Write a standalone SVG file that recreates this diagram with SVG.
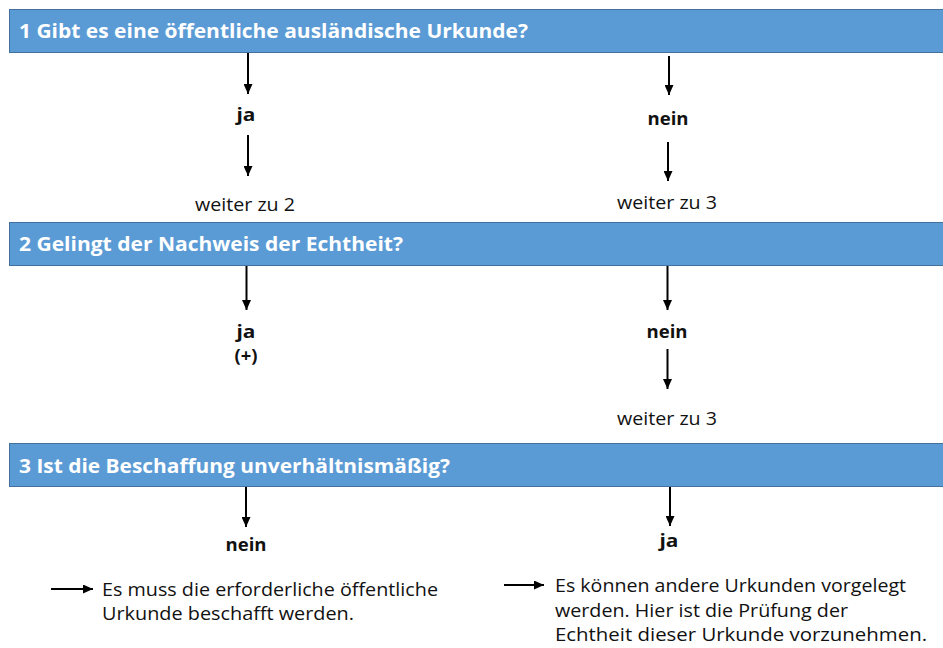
<svg xmlns="http://www.w3.org/2000/svg" width="943" height="648" viewBox="0 0 943 648">
<defs>
<style>
.bar{fill:#5B9BD5;stroke:#41719C;stroke-width:1}
.h{font-family:"Open Sans",Lato,"Liberation Sans",sans-serif;font-weight:bold;font-size:19px;fill:#ffffff}
.b{font-family:"Open Sans",Lato,"Liberation Sans",sans-serif;font-weight:bold;font-size:18px;fill:#111111;text-anchor:middle}
.t{font-family:"Open Sans",Lato,"Liberation Sans",sans-serif;font-size:19px;fill:#111111}
.a{stroke:#000000;stroke-width:2;fill:none;marker-end:url(#ah)}
</style>
<marker id="ah" markerUnits="userSpaceOnUse" markerWidth="10" markerHeight="9" refX="10" refY="4.5" orient="auto">
<path d="M0,0 L10,4.5 L0,9 z" fill="#000000"/>
</marker>
</defs>
<rect width="943" height="648" fill="#ffffff"/>

<g id="q1">
<rect class="bar" x="9.5" y="9.5" width="940" height="43"/>
<text class="h" x="19" y="37.5" textLength="509" lengthAdjust="spacingAndGlyphs">1 Gibt es eine öffentliche ausländische Urkunde?</text>
</g>
<g id="q1-ja"><text class="b" x="246" y="121" textLength="19" lengthAdjust="spacingAndGlyphs">ja</text></g>
<g id="q1-weiter2"><text class="t" x="195" y="211" textLength="100" lengthAdjust="spacingAndGlyphs">weiter zu 2</text></g>
<g id="q1-nein"><text class="b" x="668" y="125" textLength="41" lengthAdjust="spacingAndGlyphs">nein</text></g>
<g id="q1-weiter3"><text class="t" x="617" y="209" textLength="100" lengthAdjust="spacingAndGlyphs">weiter zu 3</text></g>

<g id="q2">
<rect class="bar" x="9.5" y="222.5" width="940" height="43"/>
<text class="h" x="19" y="251" textLength="384" lengthAdjust="spacingAndGlyphs">2 Gelingt der Nachweis der Echtheit?</text>
</g>
<g id="q2-ja">
<text class="b" x="246" y="338" textLength="19" lengthAdjust="spacingAndGlyphs">ja</text>
<text class="b" x="246" y="362" textLength="23" lengthAdjust="spacingAndGlyphs">(+)</text>
</g>
<g id="q2-nein"><text class="b" x="667" y="338" textLength="41" lengthAdjust="spacingAndGlyphs">nein</text></g>
<g id="q2-weiter3"><text class="t" x="617" y="425" textLength="100" lengthAdjust="spacingAndGlyphs">weiter zu 3</text></g>

<g id="q3">
<rect class="bar" x="9.5" y="443.5" width="940" height="43"/>
<text class="h" x="19" y="472.5" textLength="431" lengthAdjust="spacingAndGlyphs">3 Ist die Beschaffung unverhältnismäßig?</text>
</g>
<g id="q3-nein"><text class="b" x="246" y="551" textLength="41" lengthAdjust="spacingAndGlyphs">nein</text></g>
<g id="q3-ja"><text class="b" x="669" y="547" textLength="19" lengthAdjust="spacingAndGlyphs">ja</text></g>
<g id="q3-nein-result">
<text class="t" x="102" y="595.5" textLength="336" lengthAdjust="spacingAndGlyphs">Es muss die erforderliche öffentliche</text>
<text class="t" x="102" y="620" textLength="252" lengthAdjust="spacingAndGlyphs">Urkunde beschafft werden.</text>
</g>
<g id="q3-ja-result">
<text class="t" x="555" y="591.5" textLength="351" lengthAdjust="spacingAndGlyphs">Es können andere Urkunden vorgelegt</text>
<text class="t" x="555" y="616.5" textLength="293" lengthAdjust="spacingAndGlyphs">werden. Hier ist die Prüfung der</text>
<text class="t" x="555" y="641" textLength="372" lengthAdjust="spacingAndGlyphs">Echtheit dieser Urkunde vorzunehmen.</text>
</g>

<g id="connectors">
<line class="a" x1="248" y1="53" x2="248" y2="94"/>
<line class="a" x1="248" y1="135" x2="248" y2="176"/>
<line class="a" x1="669" y1="56" x2="669" y2="95"/>
<line class="a" x1="668" y1="142" x2="668" y2="181"/>
<line class="a" x1="246.5" y1="266" x2="246.5" y2="310"/>
<line class="a" x1="667.5" y1="266" x2="667.5" y2="310"/>
<line class="a" x1="667.5" y1="349" x2="667.5" y2="389"/>
<line class="a" x1="246" y1="487" x2="246" y2="527"/>
<line class="a" x1="670" y1="487" x2="670" y2="526"/>
<line class="a" x1="51" y1="589" x2="93" y2="589"/>
<line class="a" x1="504" y1="585" x2="544" y2="585"/>
</g>
</svg>
